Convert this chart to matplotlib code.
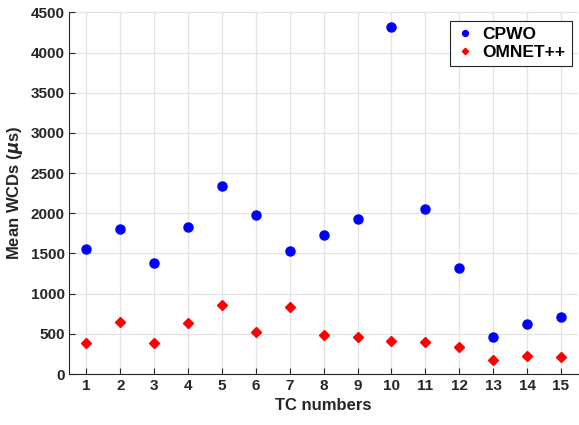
import matplotlib
matplotlib.use("Agg")
import matplotlib.pyplot as plt

tc_numbers = list(range(1, 16))
cpwo = [1555, 1805, 1380, 1830, 2345, 1975, 1530, 1725, 1925, 4320, 2055, 1322, 465, 625, 710]
omnet = [382, 643, 382, 630, 862, 522, 829, 489, 464, 410, 398, 336, 170, 224, 208]

plt.rcParams["font.family"] = ["Liberation Sans", "DejaVu Sans"]
plt.rcParams["font.weight"] = "bold"
plt.rcParams["mathtext.fontset"] = "dejavusans"

fig = plt.figure(figsize=(5.79, 4.25), dpi=100)
ax = fig.add_axes([0.12, 0.12, 0.878, 0.851])

ax.plot(tc_numbers, cpwo, "o", color="#0000ff", markersize=6.5, label="CPWO", zorder=3)
ax.plot(tc_numbers, omnet, "D", color="#ff0000", markersize=5, label="OMNET++", zorder=3)

ax.set_xlim(0.5, 15.5)
ax.set_ylim(0, 4500)
ax.set_xticks(tc_numbers)
ax.set_yticks(range(0, 4501, 500))
ax.grid(True, color="#e3e3e3", linewidth=0.9)
ax.set_axisbelow(True)
for side in ["top", "right"]:
    ax.spines[side].set_visible(False)
for side in ["left", "bottom"]:
    ax.spines[side].set_color("#262626")
ax.tick_params(direction="in", length=4, colors="#262626", labelsize=11)
for lab in ax.get_xticklabels() + ax.get_yticklabels():
    lab.set_fontweight("bold")

ax.set_xlabel("TC numbers", fontsize=12, fontweight="bold", color="#262626")
ax.set_ylabel(r"Mean WCDs ($\mathit{\mu}$s)", fontsize=12, fontweight="bold", color="#262626")

leg = ax.legend(loc="upper right", fancybox=False, edgecolor="#262626",
                prop={"weight": "bold", "size": 12.5}, handletextpad=0.5,
                handlelength=1.0, markerscale=0.65,
                borderpad=0.35, labelspacing=0.15, framealpha=1,
                borderaxespad=0, bbox_to_anchor=(0.988, 0.977))
leg.get_frame().set_linewidth(0.8)

fig.savefig("out.png", dpi=100)
